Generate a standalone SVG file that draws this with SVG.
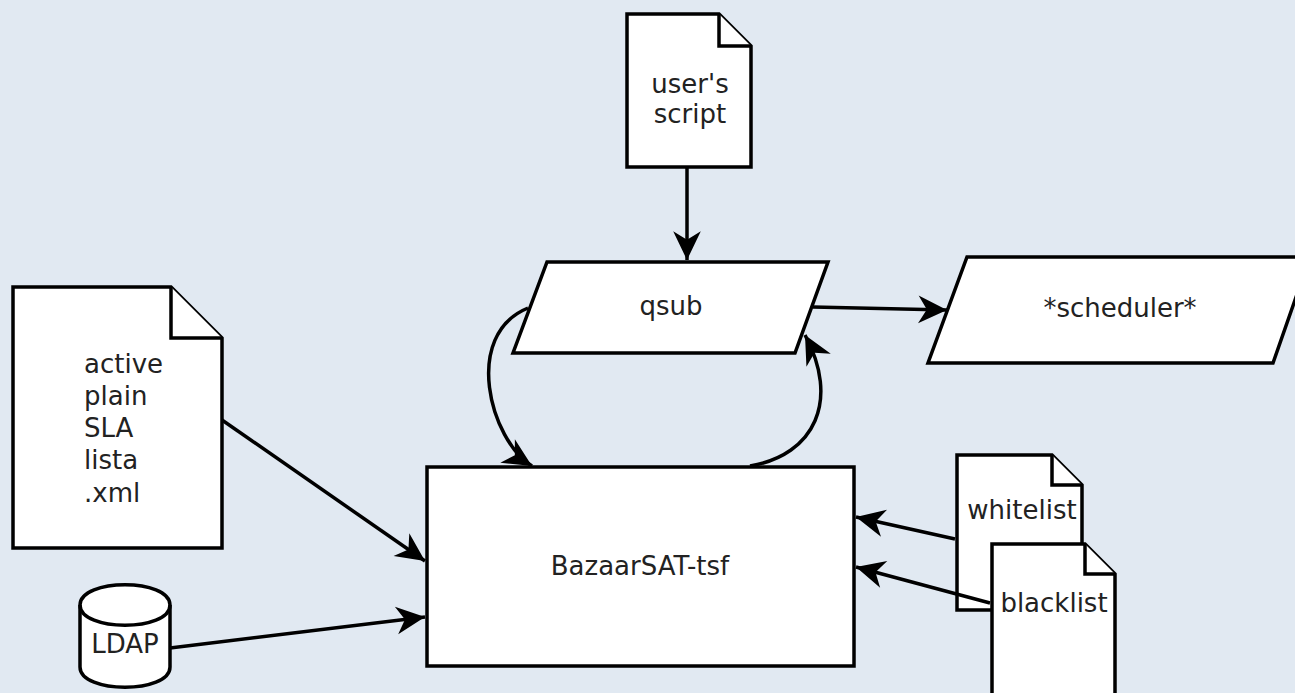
<svg xmlns="http://www.w3.org/2000/svg" width="1295" height="693" viewBox="0 0 1295 693">
<defs>
<style>
.shape{fill:#ffffff;stroke:#000000;stroke-width:3.5;stroke-linejoin:miter}
.fold{fill:#ffffff;stroke:#000000;stroke-width:3.5}
.lbl{font-family:"DejaVu Sans","Liberation Sans",sans-serif;font-size:26px;fill:#222222}
.mid{text-anchor:middle}
.edge{fill:none;stroke:#000000;stroke-width:3.5}
</style>
<marker id="arr" markerUnits="userSpaceOnUse" markerWidth="34" markerHeight="34" viewBox="-30 -15 32 30" refX="0" refY="0" orient="auto">
<path d="M0,0 L-27,-13 L-19,0 L-27,13 Z" fill="#000000"/>
</marker>
</defs>
<rect x="0" y="0" width="1295" height="693" fill="#e1e9f2"/>

<g id="node-userscript">
<path class="shape" d="M627,14 L719,14 L751,46 L751,167 L627,167 Z"/>
<path class="fold" d="M719,14 L719,46 L751,46"/>
<text class="lbl mid" x="690" y="93">user's</text>
<text class="lbl mid" x="690" y="123">script</text>
</g>

<g id="node-qsub">
<path class="shape" d="M547,262 L828,262 L795,353 L513,353 Z"/>
<text class="lbl mid" x="671" y="315">qsub</text>
</g>

<g id="node-scheduler">
<path class="shape" d="M967,257 L1310,257 L1273,363 L928,363 Z"/>
<text class="lbl mid" x="1120" y="317">*scheduler*</text>
</g>

<g id="node-active">
<path class="shape" d="M13,287 L171,287 L222,338 L222,548 L13,548 Z"/>
<path class="fold" d="M171,287 L171,338 L222,338"/>
<text class="lbl" x="84" y="373">active</text>
<text class="lbl" x="84" y="405">plain</text>
<text class="lbl" x="84" y="437">SLA</text>
<text class="lbl" x="84" y="469">lista</text>
<text class="lbl" x="84" y="502">.xml</text>
</g>

<g id="node-bazaar">
<rect class="shape" x="427" y="467" width="427" height="199"/>
<text class="lbl mid" x="640" y="575">BazaarSAT-tsf</text>
</g>

<g id="node-ldap">
<path class="shape" d="M80,605 C80,578 170,578 170,605 L170,667 C170,694 80,694 80,667 Z"/>
<path class="fold" style="fill:none" d="M80,605 C80,632 170,632 170,605"/>
<text class="lbl mid" x="125" y="653">LDAP</text>
</g>

<g id="node-whitelist">
<path class="shape" d="M957,455 L1052,455 L1082,485 L1082,610 L957,610 Z"/>
<path class="fold" d="M1052,455 L1052,485 L1082,485"/>
<text class="lbl mid" x="1022" y="519">whitelist</text>
</g>

<g id="connectors">
<line class="edge" x1="687" y1="167" x2="687" y2="260" marker-end="url(#arr)"/>
<line class="edge" x1="813" y1="307" x2="947" y2="310" marker-end="url(#arr)"/>
<path class="edge" d="M528,308 C462,335 490,440 532,466" marker-end="url(#arr)"/>
<path class="edge" d="M750,466 C815,455 840,400 805,335" marker-end="url(#arr)"/>
<line class="edge" x1="222" y1="420" x2="425" y2="561" marker-end="url(#arr)"/>
<line class="edge" x1="170" y1="648" x2="425" y2="617" marker-end="url(#arr)"/>
<line class="edge" x1="955" y1="539" x2="856" y2="517" marker-end="url(#arr)"/>
<line class="edge" x1="990" y1="603" x2="856" y2="567" marker-end="url(#arr)"/>
</g>

<g id="node-blacklist">
<path class="shape" d="M992,544 L1085,544 L1115,574 L1115,700 L992,700 Z"/>
<path class="fold" d="M1085,544 L1085,574 L1115,574"/>
<text class="lbl mid" x="1054" y="612">blacklist</text>
</g>
</svg>
